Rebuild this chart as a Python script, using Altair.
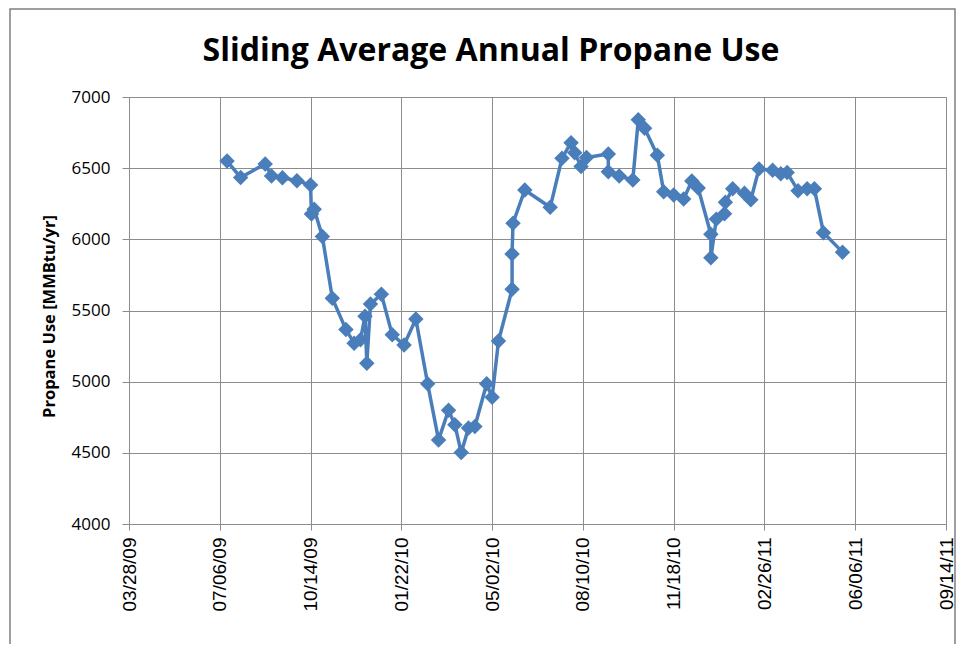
import altair as alt
import pandas as pd

# Data
dates = [
    "2009/07/14", "2009/07/29", "2009/08/25", "2009/09/01", "2009/09/13", "2009/09/29",
    "2009/10/14", "2009/10/15", "2009/10/18", "2009/10/27", "2009/11/07", "2009/11/22",
    "2009/12/01", "2009/12/08", "2009/12/13", "2009/12/15", "2009/12/19", "2009/12/31",
    "2010/01/12", "2010/01/25", "2010/02/07", "2010/02/20", "2010/03/04", "2010/03/15",
    "2010/03/22", "2010/03/29", "2010/04/06", "2010/04/13", "2010/04/26", "2010/05/02",
    "2010/05/09", "2010/05/24", "2010/05/24", "2010/05/25", "2010/06/07", "2010/07/05",
    "2010/07/18", "2010/07/28", "2010/08/01", "2010/08/08", "2010/08/14", "2010/09/07",
    "2010/09/07", "2010/09/19", "2010/10/04", "2010/10/10", "2010/10/17", "2010/10/31",
    "2010/11/07", "2010/11/18", "2010/11/29", "2010/12/08", "2010/12/15", "2010/12/29",
    "2010/12/29", "2011/01/04", "2011/01/13", "2011/01/14", "2011/01/22", "2011/02/04",
    "2011/02/11", "2011/02/20", "2011/03/07", "2011/03/16", "2011/03/23", "2011/04/04",
    "2011/04/14", "2011/04/22", "2011/05/02", "2011/05/23",
]
propane_use = [
    6550, 6435, 6530, 6445, 6433, 6412,
    6382, 6178, 6211, 6020, 5586, 5366,
    5270, 5294, 5460, 5130, 5545, 5615,
    5329, 5258, 5440, 4985, 4591, 4800,
    4697, 4502, 4674, 4685, 4985, 4890,
    5285, 5650, 5897, 6113, 6347, 6225,
    6570, 6679, 6609, 6511, 6575, 6600,
    6475, 6445, 6417, 6840, 6780, 6590,
    6335, 6312, 6284, 6410, 6360, 6035,
    5870, 6142, 6180, 6260, 6355, 6324,
    6278, 6495, 6485, 6460, 6470, 6342,
    6355, 6355, 6047, 5910,
]
tick_dates = [
    "2009/03/28", "2009/07/06", "2009/10/14", "2010/01/22", "2010/05/02",
    "2010/08/10", "2010/11/18", "2011/02/26", "2011/06/06", "2011/09/14",
]
y_ticks = [4000, 4500, 5000, 5500, 6000, 6500, 7000]

TITLE = "Sliding Average Annual Propane Use"
Y_TITLE = "Propane Use [MMBtu/yr]"

df = pd.DataFrame({"date": dates, "use": propane_use, "idx": list(range(len(dates)))})


def dt(s):
    y, m, d = (int(v) for v in s.split("/"))
    return alt.DateTime(year=y, month=m, date=d)


BLUE = "#4A7EBB"
GRID = "#8C8C8C"
LEFT = 121
W = 817

x_enc = alt.X(
    "date:T",
    scale=alt.Scale(domain=[dt(tick_dates[0]), dt(tick_dates[-1])]),
    axis=alt.Axis(
        values=[dt(t) for t in tick_dates],
        format="%m/%d/%y",
        labelAngle=-90,
        labelFont="Liberation Sans",
        labelFontSize=19,
        labelColor="#000000",
        labelPadding=7,
        tickSize=6,
        tickColor=GRID,
        domainColor=GRID,
        gridColor=GRID,
        grid=True,
        title=None,
        labelOverlap=False,
        labelFlush=False,
    ),
)
y_enc = alt.Y(
    "use:Q",
    scale=alt.Scale(domain=[y_ticks[0], y_ticks[-1]], nice=False, zero=False),
    axis=alt.Axis(
        values=y_ticks,
        format="d",
        labelFont="Open Sans",
        labelFontSize=17,
        labelColor="#000000",
        labelPadding=12,
        tickSize=7,
        tickColor=GRID,
        domainColor=GRID,
        gridColor=GRID,
        grid=True,
        title=Y_TITLE,
        titleFont="Open Sans",
        titleFontSize=16.5,
        titleFontWeight="bold",
        titleColor="#000000",
        titleX=-80,
        titleY=219,
        titleAlign="center",
        titleBaseline="middle",
        titleAngle=270,
    ),
)

base = alt.Chart(df).encode(x=x_enc, y=y_enc, order="idx:Q")

line = base.mark_line(color=BLUE, strokeWidth=3.5)
pts = base.mark_point(shape="diamond", filled=True, size=240, color=BLUE, opacity=1)

frame = alt.Chart(pd.DataFrame({"k": [0]})).mark_rect(
    fillOpacity=0, stroke="#7F7F7F", strokeWidth=1.5
).encode(
    x=alt.value(2 - LEFT), x2=alt.value(955 - 8 - LEFT), y=alt.value(-88), y2=alt.value(700)
)

title = alt.Chart(pd.DataFrame({"t": [TITLE]})).mark_text(
    font="Open Sans",
    fontSize=32,
    fontWeight="bold",
    color="#000000",
    align="center",
    baseline="alphabetic",
).encode(text="t:N", x=alt.value(491 - 8 - LEFT), y=alt.value(-36))

chart = (
    alt.layer(frame, line, pts, title)
    .properties(
        width=W,
        height=427,
        autosize=alt.AutoSizeParams(type="none"),
        padding={"left": LEFT, "top": 89, "right": 10, "bottom": 120},
    )
    .configure_view(strokeWidth=0)
    .configure(background="white")
)

chart.save("out.html", embed_options={"renderer": "svg", "actions": False})
